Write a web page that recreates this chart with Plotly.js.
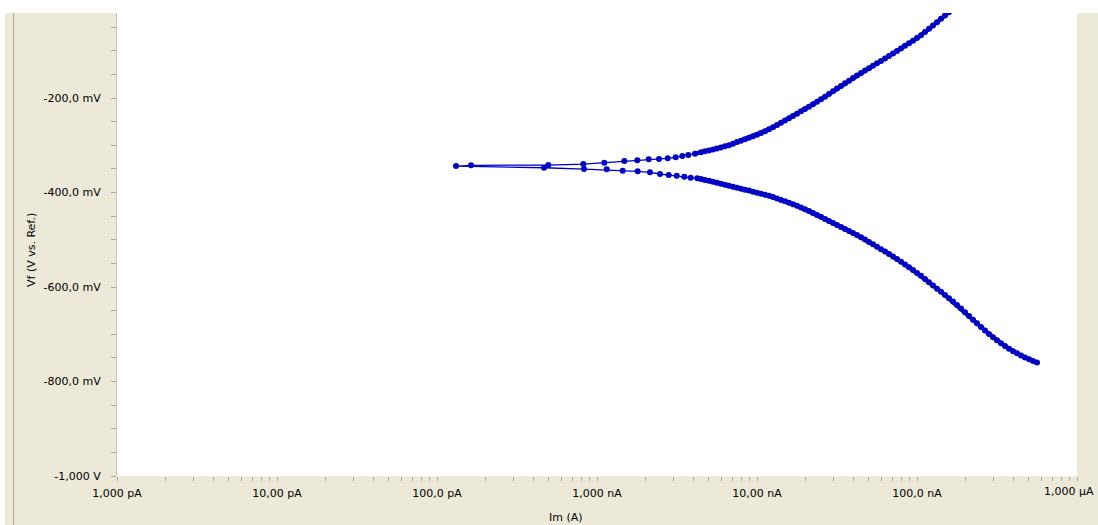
<!DOCTYPE html>
<html>
<head>
<meta charset="utf-8">
<script src="https://cdn.plot.ly/plotly-3.0.1.min.js"></script>
<style>html,body{margin:0;padding:0;background:#ECE9D8;}#chart{width:1098px;height:525px;}</style>
</head>
<body>
<div id="chart"></div>
<script>
// Cathodic branch, in scan order (from highest current toward Ecorr)
var currentLower_nA = [
  562.3, 530.9, 501.2, 473.2, 446.7, 421.7, 398.1, 375.8, 354.8, 335.0,
  316.2, 298.5, 281.8, 266.1, 251.2, 237.1, 223.9, 211.4, 199.5, 188.4,
  177.8, 167.9, 158.5, 149.6, 141.3, 133.4, 125.9, 118.9, 112.2, 105.9,
  100.0, 94.41, 89.13, 84.14, 79.43, 74.99, 70.79, 66.83, 63.10, 59.57,
  56.23, 53.09, 50.12, 47.32, 44.67, 42.17, 39.81, 37.58, 35.48, 33.50,
  31.62, 29.85, 28.18, 26.61, 25.12, 23.71, 22.39, 21.14, 19.95, 18.84,
  17.78, 16.79, 15.85, 14.96, 14.13, 13.34, 12.59, 11.89, 11.22, 10.59,
  10.00, 9.441, 8.913, 8.414, 7.943, 7.499, 7.079, 6.683, 6.310, 5.957,
  5.623, 5.309, 5.012, 4.732, 4.467,
  4.236, 3.851, 3.512, 3.149, 2.806, 2.476, 2.144, 1.796, 1.447, 1.150,
  0.8294, 0.4665, 0.1314
];
var potentialLower_mV = [
  -760.0, -756.6, -753.0, -749.0, -744.9, -740.4, -735.8, -730.8, -724.9, -718.9,
  -712.7, -706.3, -699.7, -692.1, -684.4, -676.8, -669.2, -661.5, -653.4, -645.4,
  -638.0, -630.8, -623.7, -616.9, -610.2, -603.4, -596.6, -589.8, -583.1, -576.3,
  -570.2, -564.2, -558.3, -552.4, -546.5, -540.8, -535.3, -529.9, -524.9, -519.8,
  -514.7, -509.6, -504.6, -499.5, -494.4, -489.9, -485.7, -481.5, -477.2, -473.0,
  -468.8, -464.6, -460.3, -455.9, -451.5, -447.3, -443.3, -439.3, -435.5, -431.6,
  -428.2, -424.8, -421.5, -418.5, -415.6, -412.6, -409.6, -406.9, -404.8, -402.6,
  -400.4, -398.1, -395.9, -394.0, -392.0, -389.9, -387.8, -385.7, -383.6, -381.5,
  -379.4, -377.3, -375.2, -373.3, -371.4,
  -369.9, -368.7, -366.6, -364.4, -363.0, -360.8, -357.2, -355.1, -353.8, -350.9,
  -350.3, -347.5, -343.9
];
// Anodic branch, in scan order (from Ecorr outward)
var currentUpper_nA = [
  0.1631, 0.4961, 0.8210, 1.111, 1.481, 1.786, 2.104, 2.441, 2.766, 3.104,
  3.413, 3.721, 4.097,
  4.467, 4.732, 5.012, 5.309, 5.623, 5.957, 6.310, 6.683, 7.079, 7.499,
  7.943, 8.414, 8.913, 9.441, 10.00, 10.59, 11.22, 11.89, 12.59, 13.34,
  14.13, 14.96, 15.85, 16.79, 17.78, 18.84, 19.95, 21.14, 22.39, 23.71,
  25.12, 26.61, 28.18, 29.85, 31.62, 33.50, 35.48, 37.58, 39.81, 42.17,
  44.67, 47.32, 50.12, 53.09, 56.23, 59.57, 63.10, 66.83, 70.79, 74.99,
  79.43, 84.14, 89.13, 94.41, 100.0, 105.9, 112.2, 118.9, 125.9, 133.4,
  141.3, 149.6, 158.5
];
var potentialUpper_mV = [
  -342.4, -341.8, -339.7, -336.9, -333.3, -331.9, -329.7, -329.1, -327.6, -325.5,
  -322.8, -320.6, -317.9,
  -314.9, -312.8, -310.8, -309.0, -306.9, -304.8, -302.2, -299.7, -296.7, -293.3,
  -290.3, -287.3, -284.3, -281.1, -277.7, -274.1, -270.1, -266.0, -261.6, -256.9,
  -252.3, -247.6, -243.0, -237.9, -233.0, -227.9, -223.1, -218.2, -213.1, -208.0,
  -202.7, -197.1, -191.5, -185.8, -179.9, -174.3, -168.8, -163.3, -157.8, -152.3,
  -146.9, -141.8, -136.7, -131.6, -126.6, -121.5, -116.2, -110.9, -105.6, -100.3,
  -94.9, -89.4, -83.9, -78.5, -73.0, -67.1, -60.3, -53.5, -46.6, -39.4,
  -32.2, -25.2, -18.4
];
// Axis labels
var xDecades_nA = [0.001, 0.01, 0.1, 1, 10, 100, 1000];
var xTickLabels = ["1,000 pA", "10,00 pA", "100,0 pA", "1,000 nA", "10,00 nA", "100,0 nA", "1,000 \u00b5A"];
var yMajor_mV = [-1000, -800, -600, -400, -200];
var yTickLabels = ["-1,000 V", "-800,0 mV", "-600,0 mV", "-400,0 mV", "-200,0 mV"];

var xs = currentLower_nA.concat(currentUpper_nA);
var ys = potentialLower_mV.concat(potentialUpper_mV);

// tick positions (decades + 2..9 minor, all same length)
var lastIdx = xDecades_nA.length - 1;
var xtv = [], xtt = [];
for (var d = 0; d < xDecades_nA.length; d++) {
  xtv.push(xDecades_nA[d]); xtt.push(d === lastIdx ? "" : xTickLabels[d]);
  if (d < lastIdx) {
    for (var m = 2; m <= 9; m++) { xtv.push(xDecades_nA[d] * m); xtt.push(""); }
  }
}
var ytv = [], ytt = [];
for (var v = -1000; v <= -50; v += 50) {
  ytv.push(v);
  var idx = yMajor_mV.indexOf(v);
  ytt.push(idx >= 0 ? yTickLabels[idx] : "");
}

var blue = "#0000C4";
// dense parts of both branches drawn as a thick band under the markers
var nLowerDense = 86, nUpperSparse = 12;
var bandLower = {
  x: currentLower_nA.slice(0, nLowerDense), y: potentialLower_mV.slice(0, nLowerDense),
  type: "scatter", mode: "lines", line: {color: blue, width: 4},
  hoverinfo: "skip", showlegend: false
};
var bandUpper = {
  x: currentUpper_nA.slice(nUpperSparse), y: potentialUpper_mV.slice(nUpperSparse),
  type: "scatter", mode: "lines", line: {color: blue, width: 4},
  hoverinfo: "skip", showlegend: false
};
var trace = {
  x: xs, y: ys, type: "scatter", mode: "lines+markers",
  line: {color: blue, width: 1.3},
  marker: {color: blue, size: 6},
  hoverinfo: "skip", showlegend: false
};

var L = 117, R = 1077, T = 13, B = 476, W = 1098, H = 525;
function px(xp) { return (xp - L) / (R - L); }
function py(yp) { return (B - yp) / (B - T); }

var font = "DejaVu Sans, Verdana, sans-serif";
var fs = 11;
var layout = {
  width: W, height: H,
  margin: {l: L, r: W - R, t: T, b: H - B, pad: 0},
  paper_bgcolor: "#ECE9D8", plot_bgcolor: "#FFFFFF",
  showlegend: false,
  font: {family: font, size: fs, color: "#000000"},
  xaxis: {
    type: "log", range: [-3, 3], tickmode: "array", tickvals: xtv, ticktext: xtt,
    ticks: "outside", ticklen: 4, tickwidth: 1, tickcolor: "#A8A8A8",
    showgrid: false, zeroline: false, showline: false,
    tickfont: {family: font, size: fs, color: "#000"}, ticklabelstandoff: 3
  },
  yaxis: {
    range: [-1000, -20], tickmode: "array", tickvals: ytv, ticktext: ytt,
    ticks: "outside", ticklen: 5, tickwidth: 1, tickcolor: "#A8A8A8",
    showgrid: false, zeroline: false, showline: true, linecolor: "#C4C2B8", linewidth: 1,
    tickfont: {family: font, size: fs, color: "#000"}, ticklabelstandoff: 8
  },
  shapes: [
    {type: "rect", xref: "paper", yref: "paper", x0: px(0), x1: px(W), y0: 1, y1: py(0),
     fillcolor: "#FFFFFF", line: {width: 0}, layer: "above"},
    {type: "rect", xref: "paper", yref: "paper", x0: px(0), x1: px(5), y0: py(H), y1: py(0),
     fillcolor: "#FFFFFF", line: {width: 0}, layer: "above"},
    {type: "line", xref: "paper", yref: "paper", x0: px(13.5), x1: px(13.5), y0: py(H), y1: 1,
     line: {color: "#ACA899", width: 1}, layer: "above"}
  ],
  annotations: [
    {text: "Vf (V vs. Ref.)", xref: "paper", yref: "paper", x: px(31), y: py(250),
     showarrow: false, textangle: -90, xanchor: "center", yanchor: "middle",
     font: {family: font, size: fs, color: "#000"}},
    {text: "Im (A)", xref: "paper", yref: "paper", x: px(566), y: py(517),
     showarrow: false, xanchor: "center", yanchor: "middle",
     font: {family: font, size: fs, color: "#000"}},
    {text: xTickLabels[lastIdx], xref: "paper", yref: "paper", x: px(1096), y: py(491),
     showarrow: false, xanchor: "right", yanchor: "middle",
     font: {family: font, size: fs, color: "#000"}}
  ]
};

Plotly.newPlot("chart", [bandLower, bandUpper, trace], layout, {displayModeBar: false, staticPlot: true});
</script>
</body>
</html>
